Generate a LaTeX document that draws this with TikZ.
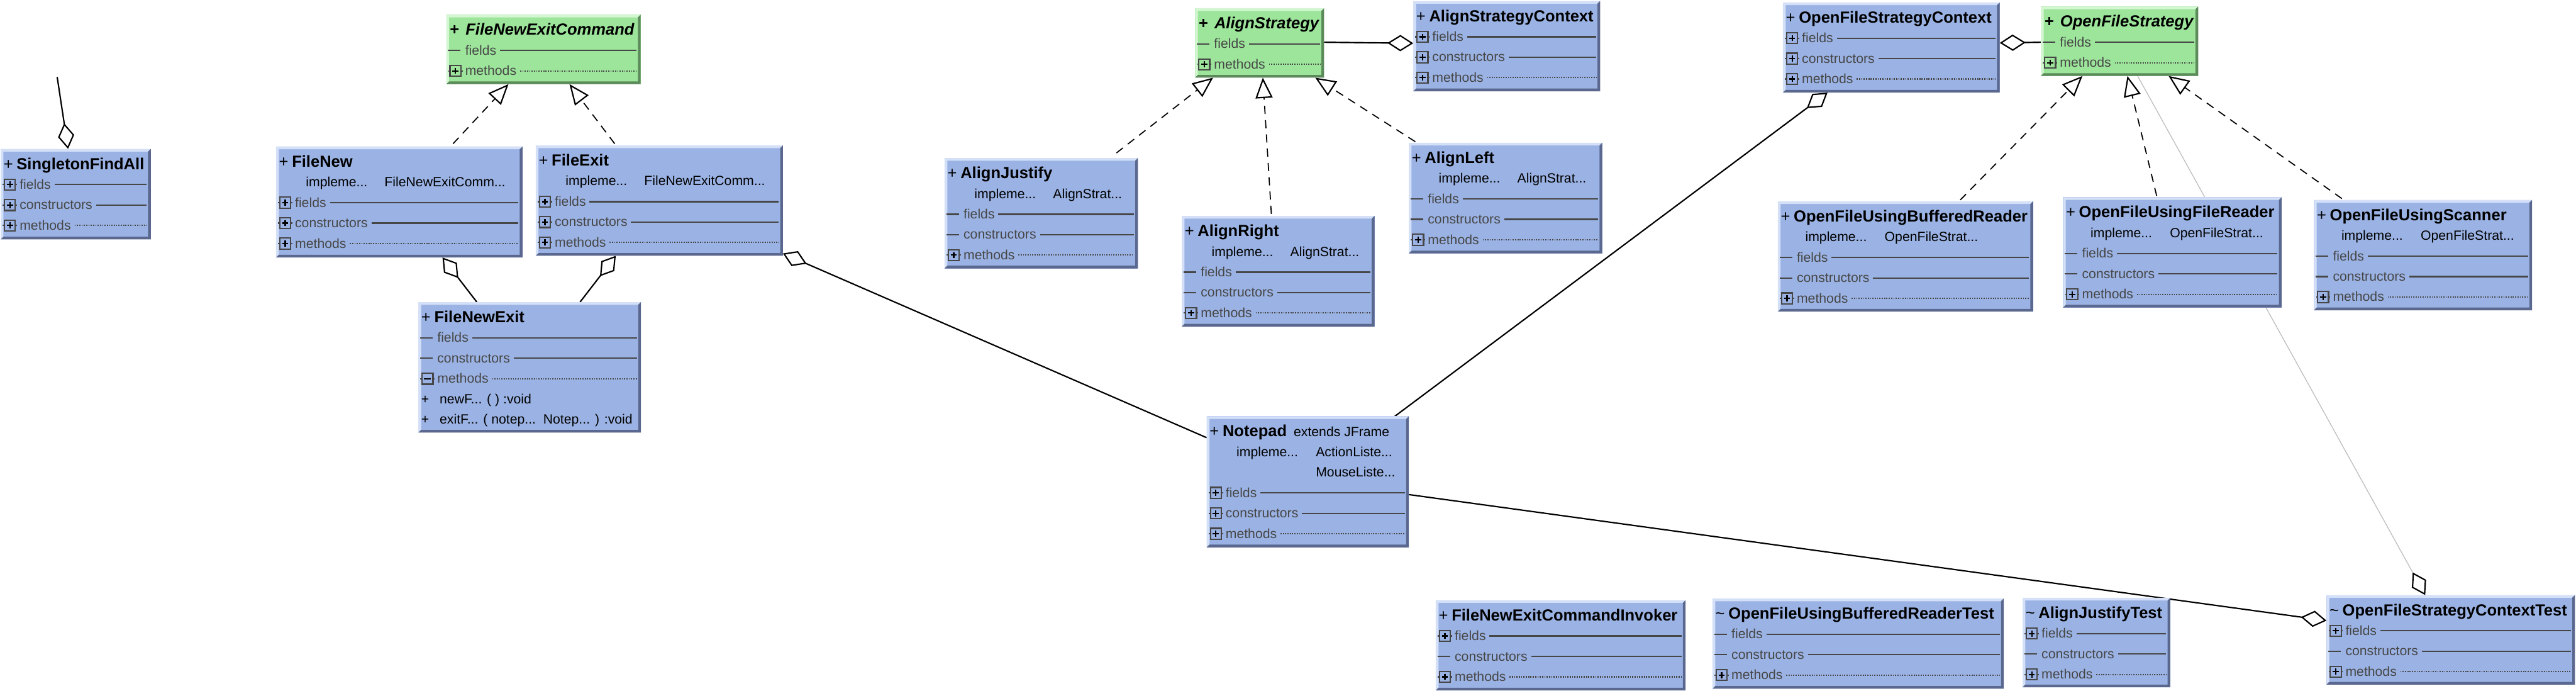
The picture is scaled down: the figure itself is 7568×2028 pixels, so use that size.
\documentclass[tikz,border=0pt]{standalone}
\usepackage{fontspec}
\setmainfont{Liberation Sans}
\usetikzlibrary{arrows.meta,calc}
\pgfdeclarelayer{bg}
\pgfsetlayers{bg,main}

\definecolor{boxblue}{RGB}{155,179,228}
\definecolor{boxbluelt}{RGB}{212,224,248}
\definecolor{boxbluedk}{RGB}{90,103,142}
\definecolor{boxgreen}{RGB}{157,229,155}
\definecolor{boxgreenlt}{RGB}{212,246,210}
\definecolor{boxgreendk}{RGB}{92,138,91}
\definecolor{txtgray}{RGB}{70,70,70}
\definecolor{linkgray}{RGB}{190,190,190}

\newcommand\titlefont{\fontsize{11.8pt}{14pt}\selectfont}
\newcommand\bodyfont{\fontsize{9.8pt}{12pt}\selectfont}

\tikzset{
  boxnode/.style={inner sep=0pt, outer sep=0pt, anchor=north west, draw=none},
  ttl/.style={anchor=base west, inner sep=0pt, font=\titlefont, text=black},
  lbl/.style={anchor=base west, inner sep=0pt, font=\bodyfont, text=txtgray},
  txt/.style={anchor=base west, inner sep=0pt, font=\bodyfont, text=black},
  secline/.style={draw=txtgray, line width=1pt},
  mdots/.style={dash pattern=on 0.8pt off 0.9pt},
  iconbox/.style={draw=txtgray, line width=1pt},
  iconmark/.style={draw=black, line width=1pt},
  aggr/.style={draw=black, line width=1pt, -{Diamond[open, length=19pt, width=12pt, line width=1pt]}},
  realize/.style={draw=black, line width=0.8pt, dash pattern=on 6pt off 4.5pt, -{Triangle[open, length=15pt, width=12.5pt, line width=1pt]}},
  greylink/.style={draw=linkgray, line width=0.6pt, -{Diamond[open, length=19pt, width=12pt, line width=1pt, color=black]}},
}

% box: name, x1, y1, x2, y2, colour
\newcommand\umlbox[6]{%
  \pgfmathsetmacro\ubw{(#4-#2)*0.25}%
  \pgfmathsetmacro\ubh{(#5-#3)*0.25}%
  \node[boxnode, fill=#6, minimum width=\ubw pt, minimum height=\ubh pt] (#1) at (#2,#3) {};
  \fill[#6lt] (#1.north west) -- (#1.north east) -- ++(-8,8) -- ($(#1.north west)+(8,8)$) -- ($(#1.south west)+(8,-8)$) -- (#1.south west) -- cycle;
  \fill[#6dk] (#1.north east) -- (#1.south east) -- (#1.south west) -- ++(8,-8) -- ($(#1.south east)+(-8,-8)$) -- ($(#1.north east)+(-8,8)$) -- cycle;
}
\newcommand\utitle[3]{%
  \node[ttl] (#1-p) at ($(#1.north west)+(8,60)$) {#2};
  \node[ttl, font=\titlefont\bfseries] (#1-n) at ($(#1.north west)+(46,60)$) {#3};
}
\newcommand\gtitle[2]{%
  \node[ttl, font=\titlefont\bfseries] (#1-p) at ($(#1.north west)+(10,60)$) {+};
  \node[ttl, font=\titlefont\bfseries\itshape] (#1-n) at ($(#1.north west)+(56,60)$) {#2};
}
\newcommand\utext[5]{%
  \node[txt] (#1-#2) at ($(#1.north west)+(#3,#4)$) {#5};
}
\newcommand\iplus[1]{%
  \draw[iconbox] ($(#1)+(11,-16)$) rectangle ++(32,32);
  \draw[iconbox] ($(#1)+(6,0)$) -- ++(5,0) ($(#1)+(43,0)$) -- ++(5,0);
  \draw[iconmark] ($(#1)+(18,0)$) -- ++(18,0) ($(#1)+(27,-9)$) -- ++(0,18);
}
\newcommand\iminus[1]{%
  \draw[iconbox] ($(#1)+(11,-16)$) rectangle ++(32,32);
  \draw[iconbox] ($(#1)+(6,0)$) -- ++(5,0) ($(#1)+(43,0)$) -- ++(5,0);
  \draw[iconmark] ($(#1)+(17,0)$) -- ++(20,0);
}
\newcommand\idash[1]{%
  \draw[iconbox] ($(#1)+(5,0)$) -- ++(37,0);
}
% row: box, index, icon, label, line style
\newcommand\urow[5]{%
  \coordinate (#1-c#2) at ($(#1.north west)+(0,{45+60*#2})$);
  #3{#1-c#2}
  \node[lbl] (#1-l#2) at ($(#1-c#2)+(55,13)$) {#4};
  \draw[secline,#5] ($(#1-l#2.east |- #1-c#2)+(10,0)$) -- ($(#1-c#2 -| #1.east)+(-12,0)$);
}

\begin{document}
\begin{tikzpicture}[x=0.25pt, y=-0.25pt]
\begin{pgfonlayer}{bg}
\fill[white] (0,0) rectangle (7568,2028);
\end{pgfonlayer}
\useasboundingbox (0,0) rectangle (7568,2028);

% ---------- SingletonFindAll
\umlbox{SFA}{2}{437}{443}{703}{boxblue}
\utitle{SFA}{+}{SingletonFindAll}
\urow{SFA}{1}{\iplus}{fields}{solid}
\urow{SFA}{2}{\iplus}{constructors}{solid}
\urow{SFA}{3}{\iplus}{methods}{mdots}

% ---------- FileNewExitCommand
\umlbox{FNEC}{1311}{43}{1882}{247}{boxgreen}
\gtitle{FNEC}{FileNewExitCommand}
\urow{FNEC}{1}{\idash}{fields}{solid}
\urow{FNEC}{2}{\iplus}{methods}{mdots}

% ---------- FileNew
\umlbox{FN}{811}{430}{1535}{756}{boxblue}
\utitle{FN}{+}{FileNew}
\utext{FN}{i1}{87}{118}{impleme...}
\utext{FN}{i2}{318}{118}{FileNewExitComm...}
\urow{FN}{2}{\iplus}{fields}{solid}
\urow{FN}{3}{\iplus}{constructors}{solid}
\urow{FN}{4}{\iplus}{methods}{mdots}

% ---------- FileExit
\umlbox{FE}{1574}{427}{2300}{751}{boxblue}
\utitle{FE}{+}{FileExit}
\utext{FE}{i1}{87}{118}{impleme...}
\utext{FE}{i2}{318}{118}{FileNewExitComm...}
\urow{FE}{2}{\iplus}{fields}{solid}
\urow{FE}{3}{\iplus}{constructors}{solid}
\urow{FE}{4}{\iplus}{methods}{mdots}

% ---------- FileNewExit
\umlbox{FNE}{1229}{887}{1883}{1270}{boxblue}
\utitle{FNE}{+}{FileNewExit}
\urow{FNE}{1}{\idash}{fields}{solid}
\urow{FNE}{2}{\idash}{constructors}{solid}
\urow{FNE}{3}{\iminus}{methods}{mdots}
\utext{FNE}{m1a}{8}{298}{+}
\utext{FNE}{m1b}{62}{298}{newF... ( ) :void}
\utext{FNE}{m2a}{8}{358}{+}
\utext{FNE}{m2b}{62}{358}{exitF... ( notep...\ \ Notep... ) :void}

% ---------- Notepad
\umlbox{NP}{3545}{1222}{4139}{1607}{boxblue}
\utitle{NP}{+}{Notepad}
\utext{NP}{ext}{255}{60}{extends\ JFrame}
\utext{NP}{i1}{87}{118}{impleme...}
\utext{NP}{i2}{320}{118}{ActionListe...}
\utext{NP}{i3}{320}{178}{MouseListe...}
\urow{NP}{3}{\iplus}{fields}{solid}
\urow{NP}{4}{\iplus}{constructors}{solid}
\urow{NP}{5}{\iplus}{methods}{mdots}

% ---------- AlignStrategy
\umlbox{AS}{3511}{24}{3890}{228}{boxgreen}
\gtitle{AS}{AlignStrategy}
\urow{AS}{1}{\idash}{fields}{solid}
\urow{AS}{2}{\iplus}{methods}{mdots}

% ---------- AlignStrategyContext
\umlbox{ASC}{4152}{3}{4701}{268}{boxblue}
\utitle{ASC}{+}{AlignStrategyContext}
\urow{ASC}{1}{\iplus}{fields}{solid}
\urow{ASC}{2}{\iplus}{constructors}{solid}
\urow{ASC}{3}{\iplus}{methods}{mdots}

% ---------- AlignJustify
\umlbox{AJ}{2775}{464}{3343}{788}{boxblue}
\utitle{AJ}{+}{AlignJustify}
\utext{AJ}{i1}{87}{118}{impleme...}
\utext{AJ}{i2}{318}{118}{AlignStrat...}
\urow{AJ}{2}{\idash}{fields}{solid}
\urow{AJ}{3}{\idash}{constructors}{solid}
\urow{AJ}{4}{\iplus}{methods}{mdots}

% ---------- AlignRight
\umlbox{AR}{3472}{634}{4038}{959}{boxblue}
\utitle{AR}{+}{AlignRight}
\utext{AR}{i1}{87}{118}{impleme...}
\utext{AR}{i2}{318}{118}{AlignStrat...}
\urow{AR}{2}{\idash}{fields}{solid}
\urow{AR}{3}{\idash}{constructors}{solid}
\urow{AR}{4}{\iplus}{methods}{mdots}

% ---------- AlignLeft
\umlbox{AL}{4139}{419}{4707}{744}{boxblue}
\utitle{AL}{+}{AlignLeft}
\utext{AL}{i1}{87}{118}{impleme...}
\utext{AL}{i2}{318}{118}{AlignStrat...}
\urow{AL}{2}{\idash}{fields}{solid}
\urow{AL}{3}{\idash}{constructors}{solid}
\urow{AL}{4}{\iplus}{methods}{mdots}

% ---------- OpenFileStrategyContext
\umlbox{OFSC}{5238}{7}{5875}{272}{boxblue}
\utitle{OFSC}{+}{OpenFileStrategyContext}
\urow{OFSC}{1}{\iplus}{fields}{solid}
\urow{OFSC}{2}{\iplus}{constructors}{solid}
\urow{OFSC}{3}{\iplus}{methods}{mdots}

% ---------- OpenFileStrategy
\umlbox{OFS}{5996}{19}{6458}{223}{boxgreen}
\gtitle{OFS}{OpenFileStrategy}
\urow{OFS}{1}{\idash}{fields}{solid}
\urow{OFS}{2}{\iplus}{methods}{mdots}

% ---------- OpenFileUsingBufferedReader
\umlbox{OFBR}{5223}{591}{5973}{915}{boxblue}
\utitle{OFBR}{+}{OpenFileUsingBufferedReader}
\utext{OFBR}{i1}{80}{118}{impleme...}
\utext{OFBR}{i2}{313}{118}{OpenFileStrat...}
\urow{OFBR}{2}{\idash}{fields}{solid}
\urow{OFBR}{3}{\idash}{constructors}{solid}
\urow{OFBR}{4}{\iplus}{methods}{mdots}

% ---------- OpenFileUsingFileReader
\umlbox{OFFR}{6061}{579}{6703}{903}{boxblue}
\utitle{OFFR}{+}{OpenFileUsingFileReader}
\utext{OFFR}{i1}{80}{118}{impleme...}
\utext{OFFR}{i2}{313}{118}{OpenFileStrat...}
\urow{OFFR}{2}{\idash}{fields}{solid}
\urow{OFFR}{3}{\idash}{constructors}{solid}
\urow{OFFR}{4}{\iplus}{methods}{mdots}

% ---------- OpenFileUsingScanner
\umlbox{OFUS}{6798}{587}{7439}{911}{boxblue}
\utitle{OFUS}{+}{OpenFileUsingScanner}
\utext{OFUS}{i1}{80}{118}{impleme...}
\utext{OFUS}{i2}{313}{118}{OpenFileStrat...}
\urow{OFUS}{2}{\idash}{fields}{solid}
\urow{OFUS}{3}{\idash}{constructors}{solid}
\urow{OFUS}{4}{\iplus}{methods}{mdots}

% ---------- FileNewExitCommandInvoker
\umlbox{FNECI}{4218}{1762}{4952}{2027}{boxblue}
\utitle{FNECI}{+}{FileNewExitCommandInvoker}
\urow{FNECI}{1}{\iplus}{fields}{solid}
\urow{FNECI}{2}{\idash}{constructors}{solid}
\urow{FNECI}{3}{\iplus}{methods}{mdots}

% ---------- OpenFileUsingBufferedReaderTest
\umlbox{OFBRT}{5031}{1757}{5887}{2022}{boxblue}
\utitle{OFBRT}{\textasciitilde}{OpenFileUsingBufferedReaderTest}
\urow{OFBRT}{1}{\idash}{fields}{solid}
\urow{OFBRT}{2}{\idash}{constructors}{solid}
\urow{OFBRT}{3}{\iplus}{methods}{mdots}

% ---------- AlignJustifyTest
\umlbox{AJT}{5942}{1755}{6376}{2018}{boxblue}
\utitle{AJT}{\textasciitilde}{AlignJustifyTest}
\urow{AJT}{1}{\iplus}{fields}{solid}
\urow{AJT}{2}{\idash}{constructors}{solid}
\urow{AJT}{3}{\iplus}{methods}{mdots}

% ---------- OpenFileStrategyContextTest
\umlbox{OFSCT}{6835}{1747}{7565}{2010}{boxblue}
\utitle{OFSCT}{\textasciitilde}{OpenFileStrategyContextTest}
\urow{OFSCT}{1}{\iplus}{fields}{solid}
\urow{OFSCT}{2}{\idash}{constructors}{solid}
\urow{OFSCT}{3}{\iplus}{methods}{mdots}

% ---------- connectors
\begin{pgfonlayer}{bg}
\coordinate (SFAfree) at (168,226);
\draw[aggr] (SFAfree) -- ($(SFA.north west)+(198,0)$);
\draw[realize] ($(FN.north west)+(520,-8)$) -- ($(FNEC.south west)+(183,0)$);
\draw[realize] ($(FE.north west)+(232,-5)$) -- ($(FNEC.south west)+(362,0)$);
\draw[aggr] ($(FNE.north west)+(172,0)$) -- ($(FN.south west)+(489,0)$);
\draw[aggr] ($(FNE.north west)+(475,0)$) -- ($(FE.south west)+(235,0)$);
\draw[aggr] ($(NP.north west)+(0,63)$) -- ($(FE.south east)+(0,-7)$);
\draw[aggr] ($(AS.north east)+(0,100)$) -- ($(ASC.north west)+(0,124)$);
\draw[realize] ($(AJ.north west)+(505,-15)$) -- ($(AS.south west)+(53,0)$);
\draw[realize] ($(AR.north west)+(263,-6)$) -- ($(AS.south west)+(199,0)$);
\draw[realize] ($(AL.north west)+(19,-3)$) -- ($(AS.south west)+(353,0)$);
\draw[aggr] ($(OFS.north west)+(0,105)$) -- ($(OFSC.north east)+(0,119)$);
\draw[aggr] ($(NP.north west)+(553,0)$) -- ($(OFSC.south west)+(131,0)$);
\draw[realize] ($(OFBR.north west)+(536,-4)$) -- ($(OFS.south west)+(122,0)$);
\draw[realize] ($(OFFR.north west)+(275,-4)$) -- ($(OFS.south west)+(254,0)$);
\draw[realize] ($(OFUS.north west)+(82,-4)$) -- ($(OFS.south west)+(375,0)$);
\draw[greylink] ($(OFS.south west)+(284,0)$) -- ($(OFSCT.north west)+(290,0)$);
\draw[aggr] ($(NP.north east)+(0,230)$) -- ($(OFSCT.north west)+(0,75)$);
\end{pgfonlayer}
\end{tikzpicture}
\end{document}
